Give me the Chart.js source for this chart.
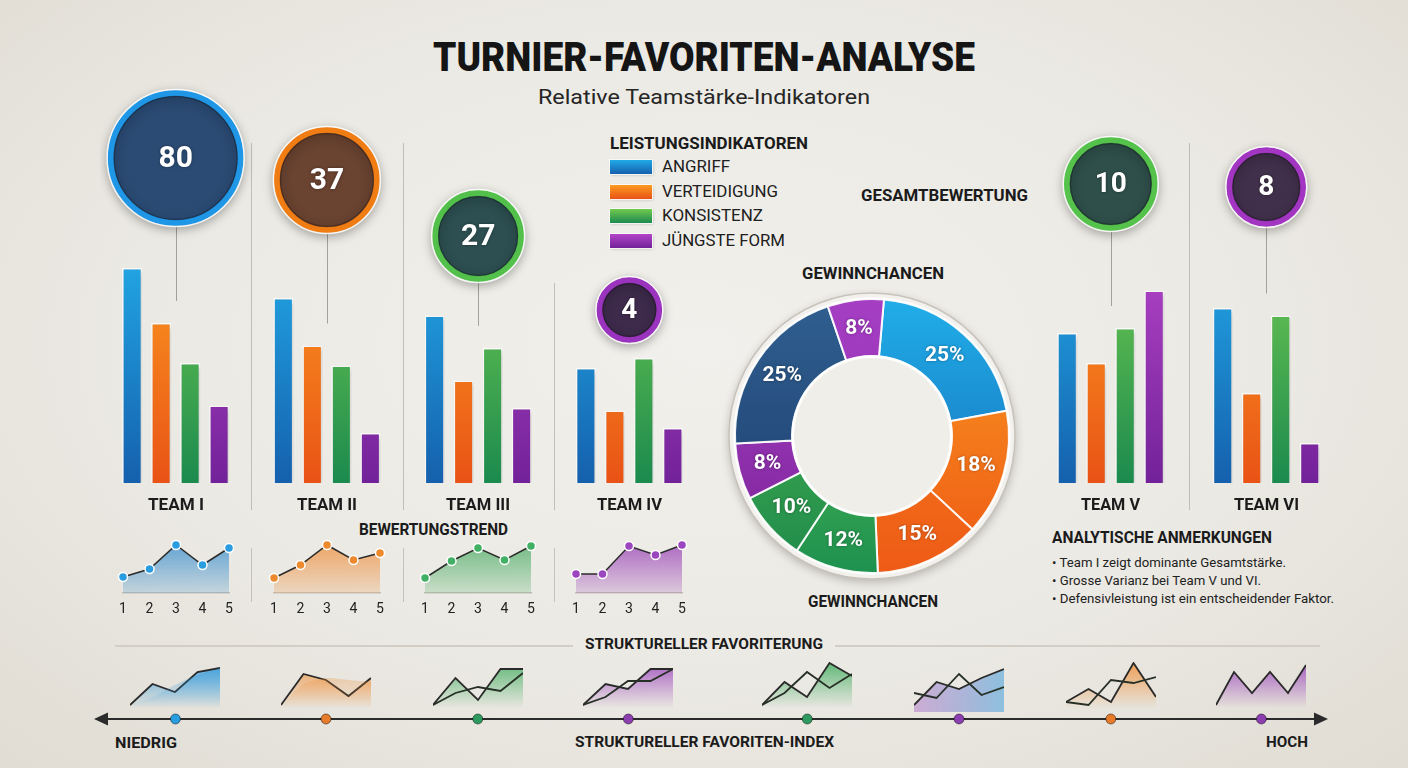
<!DOCTYPE html>
<html><head><meta charset="utf-8">
<script src="https://cdn.jsdelivr.net/npm/chart.js@4/dist/chart.umd.min.js"></script>
<style>
html,body{margin:0;padding:0;}
body{width:1408px;height:768px;overflow:hidden;position:relative;font-family:Roboto,"Noto Sans",sans-serif;
background:radial-gradient(ellipse 75% 80% at 50% 45%, #f1f0ec 0%, #ebe9e3 55%, #dfdbd2 100%);}
.t{position:absolute;white-space:nowrap;line-height:1;color:#1b1b1b;}
canvas{position:absolute;}
.hl{position:absolute;height:2px;background:#d2cec6;}
.sw{position:absolute;width:42px;height:14px;box-shadow:0 0 0 1px rgba(255,255,255,0.75),1px 1px 3px rgba(0,0,0,0.2);}
</style></head><body>
<script>
// ---------------- DATA ----------------
const teams = ['TEAM I','TEAM II','TEAM III','TEAM IV','TEAM V','TEAM VI'];
const indicators = ['ANGRIFF','VERTEIDIGUNG','KONSISTENZ','JÜNGSTE FORM'];
const angriff      = [86, 74, 67, 46, 60, 70];
const verteidigung = [64, 55, 41, 29, 48, 36];
const konsistenz   = [48, 47, 54, 50, 62, 67];
const juengsteForm = [31, 20, 30, 22, 77, 16];
const gesamtbewertung = [80, 37, 27, 4, 10, 8];

const chanceLabels = ['Segment 1','Segment 2','Segment 3','Segment 4','Segment 5','Segment 6','Segment 7','Segment 8'];
const gewinnchancen = [25, 18, 15, 12, 10, 8, 25, 8];

const trendRounds = ['1','2','3','4','5'];
const trendTeamI   = [16, 24, 48, 28, 45];
const trendTeamII  = [15, 28, 48, 33, 40];
const trendTeamIII = [15, 32, 45, 33, 47];
const trendTeamIV  = [19, 19, 47, 38, 48];

const favIndex = [6.6, 18.8, 31.1, 43.3, 57.8, 70.1, 82.4, 94.6];
const favProfileA = [
  [7, 28, 20, 40, 44],
  [7, 38, 32, 16, 34],
  [7, 34, 12, 43, 43],
  [7, 28, 23, 43, 43],
  [7, 30, 15, 49, 36],
  [7, 30, 23, 34, 43],
  [10, 23, 10, 49, 15],
  [7, 40, 19, 40, 19, 47]
];
const favProfileB = [
  [7, 15, 27, 37, 44],
  [7, 28, 34, 32, 30],
  [7, 19, 25, 21, 39],
  [7, 15, 31, 31, 43],
  [7, 19, 40, 24, 38],
  [19, 14, 38, 17, 25],
  [10, 7, 32, 29, 35],
  null
];

const notesTitle = 'ANALYTISCHE ANMERKUNGEN';
const notes = ['Team I zeigt dominante Gesamtstärke.','Grosse Varianz bei Team V und VI.','Defensivleistung ist ein entscheidender Faktor.'];

// ---------------- STYLE / LAYOUT ----------------
const barPalette = [['#22aae7','#1560ad'],['#fb9b20','#e95316'],['#72ca50','#1b8a4e'],['#b345c8','#722299']];
const bubbleFill = ['#2b4b74','#6a4331','#2d4f51','#3e2b4c','#2f4f4a','#41304b'];
const bubbleRing = ['#1f96e6','#f07c14','#52c04a','#9a33bd','#55c24c','#a235c2'];
const donutColors = [['#20aee9','#1561b0'],['#fa9a22','#ee5814'],['#f7891e','#ee5a16'],['#62c650','#1e9150'],['#52ba4d','#1d8a4c'],['#a840c4','#7a2398'],['#2f5f90','#1c3b6a'],['#a53ec3','#8a2cab']];
const sparkFill = ['rgba(52,140,205,','rgba(238,140,55,','rgba(70,170,95,','rgba(150,60,180,'];
const sparkDot = ['#2a9de0','#ee8a2e','#42b064','#9b46bf'];
const favColor = [['rgba(40,150,220,','rgba(40,150,220,'],['rgba(240,140,50,','rgba(240,140,50,'],['rgba(60,170,90,','rgba(60,170,90,'],['rgba(150,60,185,','rgba(150,60,185,'],['rgba(60,170,90,','rgba(60,170,90,'],['rgba(150,70,190,','rgba(40,150,220,'],['rgba(240,140,50,','rgba(240,140,50,'],['rgba(150,60,185,','rgba(150,60,185,']];
const favDot = ['#2a9de0','#e57b2b','#2e9a5f','#8c3fae','#2e9a5f','#8c3fae','#e57b2b','#8c3fae'];
const teamLabelW = [56,60,64,65,59,65];

Chart.defaults.font.family = 'Roboto, "Noto Sans", sans-serif';

// ---------------- helpers ----------------
const texts = [];
function T(str, x, y, w, size, weight, align, color){
  const d = document.createElement('div');
  d.className = 't'; d.textContent = str;
  d.style.fontSize = size + 'px'; d.style.fontWeight = weight;
  if (color) d.style.color = color;
  d.style.top = (y - 0.49*size) + 'px';
  document.body.appendChild(d);
  texts.push({d, x, w, align: align || 'left'});
  fitOne(texts[texts.length-1]);
}
function fitOne(o){
  o.d.style.transform = 'none';
  const nat = o.d.getBoundingClientRect().width;
  const s = o.w / nat;
  o.d.style.transformOrigin = 'left center';
  o.d.style.transform = 'scaleX(' + s + ')';
  o.d.style.left = (o.align === 'center' ? o.x - o.w/2 : o.x) + 'px';
}
function mkCanvas(l, t, w, h){
  const c = document.createElement('canvas');
  c.width = w; c.height = h;
  c.style.left = l + 'px'; c.style.top = t + 'px';
  c.style.width = w + 'px'; c.style.height = h + 'px';
  document.body.appendChild(c);
  return c;
}
function vgrad(chart, pair, y0, y1){
  const g = chart.ctx.createLinearGradient(0, y0, 0, y1);
  g.addColorStop(0, pair[0]); g.addColorStop(1, pair[1]);
  return g;
}
function hl(x1, x2, y){
  const d = document.createElement('div'); d.className = 'hl';
  d.style.left = x1 + 'px'; d.style.width = (x2 - x1) + 'px'; d.style.top = (y - 1) + 'px';
  document.body.appendChild(d);
}
function baseOpts(padding){
  return {animation:false, responsive:false, maintainAspectRatio:false, events:[],
    layout:{autoPadding:false, padding: padding === undefined ? 0 : padding},
    plugins:{legend:{display:false}, tooltip:{enabled:false}}};
}

// ---------------- texts ----------------
T('TURNIER-FAVORITEN-ANALYSE', 704, 58, 542, 40, 900, 'center', '#151515');
T('Relative Teamstärke-Indikatoren', 704, 97, 332, 21, 400, 'center', '#262626');
T('LEISTUNGSINDIKATOREN', 610, 143, 198, 17, 700);
const legW = [68,116,101,123];
indicators.forEach((name, i) => {
  const y = 167 + 24.5*i;
  const s = document.createElement('div'); s.className = 'sw';
  s.style.left = '610px'; s.style.top = (y - 7) + 'px';
  s.style.background = 'linear-gradient(180deg,' + barPalette[i][0] + ',' + barPalette[i][1] + ')';
  document.body.appendChild(s);
  T(name, 662, y, legW[i], 16, 400, 'left', '#202020');
});
T('GESAMTBEWERTUNG', 861, 196, 167, 16, 700);
T('GEWINNCHANCEN', 873, 274, 142, 16, 700, 'center');
T('GEWINNCHANCEN', 873, 602, 130, 16, 700, 'center');
T('BEWERTUNGSTREND', 359, 530, 149, 16, 700);
T(notesTitle, 1052, 538, 220, 16, 700);
const noteW = [234, 209, 282];
notes.forEach((n, i) => T('•  ' + n, 1052, 562 + 18*i, noteW[i], 13, 400, 'left', '#222'));
T('STRUKTURELLER FAVORITERUNG', 704, 644, 238, 15, 700, 'center');
hl(115, 573, 646); hl(835, 1320, 646);
T('NIEDRIG', 115, 743, 62, 15, 700);
T('STRUKTURELLER FAVORITEN-INDEX', 704, 742, 259, 15, 700, 'center');
T('HOCH', 1266, 742, 42, 15, 700);

// ---------------- team bar charts ----------------
function teamDeco(cfg){
  return {
    id: 'deco',
    beforeDatasetsDraw(chart){
      const ctx = chart.ctx, xs = chart.scales.x, a = chart.chartArea;
      ctx.save();
      ctx.strokeStyle = 'rgba(150,146,138,0.5)'; ctx.lineWidth = 1;
      for (let k = 1; k < chart.data.labels.length; k++){
        const x = Math.round((xs.getPixelForValue(k-1) + xs.getPixelForValue(k))/2) + 0.5;
        ctx.beginPath(); ctx.moveTo(x, cfg.divTop[k-1] - cfg.top); ctx.lineTo(x, a.bottom + 27); ctx.stroke();
      }
      const bm = chart.getDatasetMeta(4), m1 = chart.getDatasetMeta(1), m2 = chart.getDatasetMeta(2);
      ctx.strokeStyle = 'rgba(125,121,114,0.65)';
      bm.data.forEach((el, k) => {
        const x = Math.round(el.x) + 0.5;
        ctx.beginPath(); ctx.moveTo(x, el.y + el.options.radius + 4);
        ctx.lineTo(x, Math.min(m1.data[k].y, m2.data[k].y) - 22); ctx.stroke();
      });
      ctx.restore();
    },
    beforeDatasetDraw(chart, args){
      const ctx = chart.ctx; ctx.save();
      if (args.meta.type === 'bubble'){ ctx.shadowColor = 'rgba(0,0,0,0.3)'; ctx.shadowBlur = 12; ctx.shadowOffsetY = 3; }
      else { ctx.shadowColor = 'rgba(0,0,0,0.2)'; ctx.shadowBlur = 5; ctx.shadowOffsetX = 2; ctx.shadowOffsetY = 2; }
    },
    afterDatasetDraw(chart){ chart.ctx.restore(); },
    afterDatasetsDraw(chart){
      const ctx = chart.ctx, bm = chart.getDatasetMeta(4);
      const ds = chart.data.datasets[4];
      ctx.save();
      bm.data.forEach((el, k) => {
        const r = el.options.radius;
        ctx.beginPath(); ctx.arc(el.x, el.y, r + 3.5, 0, Math.PI*2);
        ctx.strokeStyle = 'rgba(255,255,255,0.85)'; ctx.lineWidth = 1.5; ctx.stroke();
        ctx.beginPath(); ctx.arc(el.x, el.y, r - 3.5, 0, Math.PI*2);
        ctx.strokeStyle = 'rgba(0,0,0,0.25)'; ctx.lineWidth = 1.5; ctx.stroke();
        ctx.fillStyle = '#ffffff';
        ctx.font = '700 ' + cfg.font[k] + 'px Roboto';
        ctx.textAlign = 'center'; ctx.textBaseline = 'middle';
        ctx.shadowColor = 'rgba(0,0,0,0.4)'; ctx.shadowBlur = 3;
        ctx.fillText(String(ds.scores[k]), el.x, el.y + 1);
        ctx.shadowBlur = 0;
      });
      ctx.restore();
    }
  };
}

function teamChart(cfg){
  const cv = mkCanvas(cfg.left, cfg.top, cfg.width, cfg.height);
  const labels = cfg.idx.map(i => teams[i]);
  const series = [angriff, verteidigung, konsistenz, juengsteForm];
  const datasets = series.map((arr, s) => ({
    type:'bar', label: indicators[s], data: cfg.idx.map(i => arr[i]),
    backgroundColor: c => { const ch = c.chart; if (!ch.chartArea || !ch.scales.y) return barPalette[s][1];
      return vgrad(ch, barPalette[s], ch.scales.y.getPixelForValue(95), ch.chartArea.bottom); },
    borderColor: 'rgba(255,255,255,0.85)', borderWidth: 1.5, borderSkipped: 'bottom',
    categoryPercentage: cfg.cat, barPercentage: 0.69, order: 2, yAxisID: 'y'
  }));
  datasets.push({
    type:'bubble', label:'Gesamtbewertung',
    data: cfg.idx.map((i, k) => ({x: labels[k], y: cfg.lift[k], r: cfg.r[k]})),
    scores: cfg.idx.map(i => gesamtbewertung[i]),
    backgroundColor: cfg.idx.map(i => bubbleFill[i]),
    borderColor: cfg.idx.map(i => bubbleRing[i]),
    borderWidth: 6, order: 1, yAxisID: 'yb', clip: false
  });
  const o = baseOpts({left:0, right:0, top:0, bottom:cfg.padBottom});
  o.scales = {x:{display:false}, y:{display:false, min:0, max:cfg.ymax}, yb:{display:false, min:0, max:cfg.ybmax}};
  const ch = new Chart(cv, {type:'bar', data:{labels, datasets}, options:o, plugins:[teamDeco(cfg)]});
  cfg.idx.forEach((i, k) => {
    T(teams[i], cfg.left + ch.scales.x.getPixelForValue(k), 504, teamLabelW[i], 17, 700, 'center');
  });
  return ch;
}

const leftCfg = {left:100, top:70, width:605, height:442, padBottom:29, idx:[0,1,2,3], cat:0.767,
  ymax:165.2, ybmax:413, lift:[325, 303, 247, 173], r:[65, 50, 43, 30], font:[30,30,30,28], divTop:[143,143,283]};
const rightCfg = {left:1033, top:70, width:311, height:442, padBottom:29, idx:[4,5], cat:0.746,
  ymax:165.2, ybmax:413, lift:[299, 296], r:[44, 37], font:[28,28], divTop:[143]};
const leftChart = teamChart(leftCfg);
const rightChart = teamChart(rightCfg);

// ---------------- sparklines ----------------
const trends = [trendTeamI, trendTeamII, trendTeamIII, trendTeamIV];
trends.forEach((vals, k) => {
  const cx = leftCfg.left + leftChart.scales.x.getPixelForValue(k);
  const w = 106, pad = 8;
  const cv = mkCanvas(Math.round(cx - w/2 - pad), 533, w + 2*pad, 80);
  const o = baseOpts({left:pad, right:pad, top:0, bottom:0});
  o.scales = {
    x:{offset:false, grid:{display:false}, border:{display:true, color:'#c4c0b8', width:1.5},
       ticks:{color:'#222222', font:{size:14}, padding:0, maxRotation:0, autoSkip:false},
       afterFit(s){ s.height = 20; }},
    y:{display:false, min:0, max:60}
  };
  new Chart(cv, {type:'line', data:{labels:trendRounds, datasets:[{
    data: vals, borderColor:'#2b2b2b', borderWidth:1.5, tension:0, clip:false,
    fill:'start',
    backgroundColor: c => { const a = c.chart.chartArea; if (!a) return sparkFill[k] + '0.4)';
      const g = c.chart.ctx.createLinearGradient(0, a.top, 0, a.bottom);
      g.addColorStop(0, sparkFill[k] + '0.85)'); g.addColorStop(1, sparkFill[k] + '0.2)'); return g; },
    pointRadius:4.5, pointBackgroundColor: sparkDot[k], pointBorderColor:'#ffffff', pointBorderWidth:1.5
  }]}, options:o});
  if (k > 0){
    const x = Math.round(leftCfg.left + (leftChart.scales.x.getPixelForValue(k-1) + leftChart.scales.x.getPixelForValue(k))/2);
    const d = document.createElement('div');
    d.style.cssText = 'position:absolute;left:' + x + 'px;top:548px;width:1px;height:54px;background:rgba(150,146,138,0.45)';
    document.body.appendChild(d);
  }
});

// ---------------- donut ----------------
const donutDeco = {
  id:'donutDeco',
  beforeDatasetsDraw(chart){
    const el = chart.getDatasetMeta(0).data[0]; const ctx = chart.ctx;
    ctx.save();
    ctx.shadowColor = 'rgba(0,0,0,0.25)'; ctx.shadowBlur = 10; ctx.shadowOffsetY = 3;
    ctx.beginPath(); ctx.arc(el.x, el.y, el.outerRadius + 6, 0, Math.PI*2);
    ctx.fillStyle = '#f2f1ed'; ctx.fill();
    ctx.shadowColor = 'transparent';
    ctx.strokeStyle = '#c8c3ba'; ctx.lineWidth = 1.5; ctx.stroke();
    ctx.restore();
  },
  afterDatasetsDraw(chart){
    const meta = chart.getDatasetMeta(0); const el = meta.data[0]; const ctx = chart.ctx;
    ctx.save();
    ctx.beginPath(); ctx.arc(el.x, el.y, el.innerRadius, 0, Math.PI*2);
    ctx.fillStyle = '#efeee9'; ctx.fill();
    ctx.strokeStyle = 'rgba(255,255,255,0.95)'; ctx.lineWidth = 3; ctx.stroke();
    ctx.beginPath(); ctx.arc(el.x, el.y, el.outerRadius + 1, 0, Math.PI*2);
    ctx.strokeStyle = 'rgba(255,255,255,0.8)'; ctx.lineWidth = 1.5; ctx.stroke();
    ctx.font = '700 21px Roboto'; ctx.fillStyle = '#ffffff';
    ctx.textAlign = 'center'; ctx.textBaseline = 'middle';
    ctx.shadowColor = 'rgba(0,0,0,0.35)'; ctx.shadowBlur = 3;
    meta.data.forEach((arc, i) => {
      const p = arc.tooltipPosition();
      ctx.fillText(chart.data.datasets[0].data[i] + '%', p.x, p.y);
    });
    ctx.restore();
  }
};
(function(){
  const cv = mkCanvas(717, 281, 310, 310);
  const o = baseOpts(17);
  o.cutout = '58%'; o.rotation = 5;
  new Chart(cv, {type:'doughnut', data:{labels:chanceLabels, datasets:[{
    data: gewinnchancen,
    backgroundColor: c => { const i = c.dataIndex; if (i === undefined) return '#888';
      const a = c.chart.chartArea; if (!a) return donutColors[i][1];
      return vgrad(c.chart, donutColors[i], a.top, a.bottom); },
    borderColor:'rgba(255,255,255,0.92)', borderWidth:2
  }]}, options:o, plugins:[donutDeco]});
})();

// ---------------- bottom index axis ----------------
const axisDeco = {
  id:'axisDeco',
  beforeDatasetsDraw(chart){
    const ctx = chart.ctx, a = chart.chartArea; const y = (a.top + a.bottom)/2;
    ctx.save();
    ctx.strokeStyle = '#2b2b2b'; ctx.fillStyle = '#2b2b2b'; ctx.lineWidth = 2.2;
    ctx.beginPath(); ctx.moveTo(a.left + 10, y); ctx.lineTo(a.right - 10, y); ctx.stroke();
    ctx.beginPath(); ctx.moveTo(a.left, y); ctx.lineTo(a.left + 14, y - 6.5); ctx.lineTo(a.left + 14, y + 6.5); ctx.closePath(); ctx.fill();
    ctx.beginPath(); ctx.moveTo(a.right, y); ctx.lineTo(a.right - 14, y - 6.5); ctx.lineTo(a.right - 14, y + 6.5); ctx.closePath(); ctx.fill();
    ctx.restore();
  }
};
const axisCv = mkCanvas(85, 707, 1255, 24);
const axisOpts = baseOpts({left:9, right:12, top:0, bottom:0});
axisOpts.scales = {x:{type:'linear', display:false, min:0, max:100}, y:{display:false, min:-1, max:1}};
const axisChart = new Chart(axisCv, {type:'scatter', data:{datasets:[{
  data: favIndex.map(v => ({x:v, y:0})), clip:false,
  pointRadius:5, pointBackgroundColor: favDot, pointBorderColor:'rgba(0,0,0,0.45)', pointBorderWidth:1
}]}, options:axisOpts, plugins:[axisDeco]});

// ---------------- mini profiles ----------------
favIndex.forEach((v, k) => {
  const cx = 85 + axisChart.scales.x.getPixelForValue(v);
  const cv = mkCanvas(Math.round(cx - 45), 662, 90, 50);
  const A = favProfileA[k], B = favProfileB[k];
  const labels = A.map((_, i) => String(i + 1));
  const mkFill = (alphaTop) => c => { const a = c.chart.chartArea; if (!a) return 'rgba(0,0,0,0)';
    const ctx = c.chart.ctx;
    if (favColor[k][0] !== favColor[k][1]){
      const g = ctx.createLinearGradient(a.left, 0, a.right, 0);
      g.addColorStop(0, favColor[k][0] + (alphaTop*0.45) + ')'); g.addColorStop(1, favColor[k][1] + (alphaTop*0.6) + ')'); return g;
    }
    const g = ctx.createLinearGradient(0, a.top, 0, a.bottom - 4);
    g.addColorStop(0, favColor[k][0] + alphaTop + ')'); g.addColorStop(1, favColor[k][0] + '0)'); return g; };
  const datasets = [];
  const lightFill = (k === 0 || k === 1);
  if (B){
    datasets.push(lightFill ?
      {data:B, borderWidth:0, borderColor:'rgba(0,0,0,0)', fill:'start', backgroundColor: mkFill(0.45), pointRadius:0, tension:0.2, clip:false} :
      {data:B, borderWidth:1.8, borderColor:'#263026', fill:false, pointRadius:0, tension:0, clip:false});
  }
  datasets.push({data:A, borderWidth:1.8, borderColor:'#2a2a2a', fill:'start', backgroundColor: mkFill(0.8), pointRadius:0, tension:0, clip:false});
  const o = baseOpts(0);
  o.scales = {x:{display:false, offset:false}, y:{display:false, min:0, max:50}};
  new Chart(cv, {type:'line', data:{labels, datasets}, options:o});
});

if (document.fonts && document.fonts.ready) document.fonts.ready.then(() => texts.forEach(fitOne));
</script>
</body></html>
